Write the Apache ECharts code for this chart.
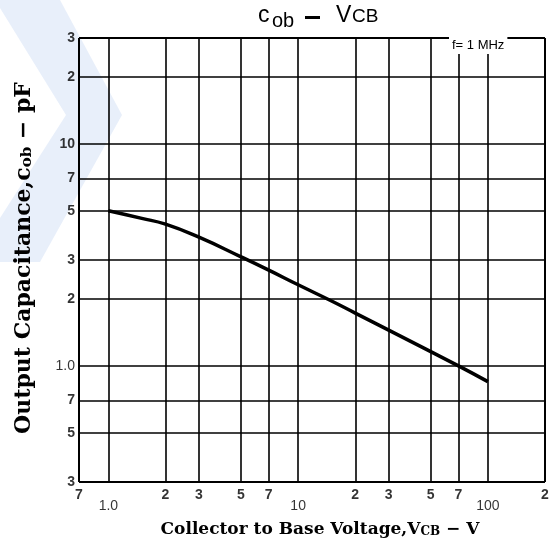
<!DOCTYPE html>
<html>
<head>
<meta charset="utf-8">
<script src="https://cdn.jsdelivr.net/npm/echarts@6/dist/echarts.min.js"></script>
<style>html,body{margin:0;padding:0;background:#fff}#c{width:552px;height:552px}</style>
</head>
<body>
<div id="c"></div>
<script>
// ---- data ----
const xGrid = [0.7, 1, 2, 3, 5, 7, 10, 20, 30, 50, 70, 100, 200];
const xTickLabels = ['7', '1.0', '2', '3', '5', '7', '10', '2', '3', '5', '7', '100', '2'];
const yGrid = [0.3, 0.5, 0.7, 1, 2, 3, 5, 7, 10, 20, 30];
const yTickLabels = ['3', '5', '7', '1.0', '2', '3', '5', '7', '10', '2', '3'];
const vcb = [1, 1.5, 2, 3, 5, 7, 10, 15, 20, 30, 50, 70, 100];
const cob = [5.0, 4.62, 4.35, 3.80, 3.1, 2.70, 2.32, 1.96, 1.73, 1.45, 1.16, 1.0, 0.85];
const noteText = 'f= 1 MHz';

const chart = echarts.init(document.getElementById('c'), null, {renderer: 'canvas'});
const isDecade = s => s.indexOf('1') === 0 && s.length > 1;
const serif = '"DejaVu Serif","Liberation Serif",serif';
const sans = '"Liberation Sans","DejaVu Sans",sans-serif';

const gridLine = (v, key, edge) => ({[key]: v, lineStyle: {width: edge ? 2 : 1.6, color: '#000', type: 'solid'}});

const option = {
  animation: false,
  backgroundColor: '#fff',
  grid: {left: 79, top: 38, right: 7, bottom: 70, containLabel: false},
  xAxis: {type: 'log', logBase: 10, min: 0.7, max: 200,
    axisLine: {show: false}, axisTick: {show: false}, axisLabel: {show: false}, splitLine: {show: false}},
  yAxis: {type: 'log', logBase: 10, min: 0.3, max: 30,
    axisLine: {show: false}, axisTick: {show: false}, axisLabel: {show: false}, splitLine: {show: false}},
  graphic: [
    {type: 'polygon', z: -10, silent: true,
      shape: {points: [[0, 0], [60, 0], [122, 115], [40, 262], [0, 262], [0, 218], [66, 115], [0, 8]]},
      style: {fill: 'rgba(214,225,245,0.55)'}},
    // title
    {type: 'text', left: 258, top: 4, style: {text: 'c', font: '23px ' + sans, fill: '#000'}},
    {type: 'text', left: 272, top: 11, style: {text: 'ob', font: '20px ' + sans, fill: '#000'}},
    {type: 'rect', shape: {x: 305, y: 16, width: 15, height: 3}, style: {fill: '#000'}},
    {type: 'text', left: 336, top: 4, style: {text: 'V', font: '23px ' + sans, fill: '#000'}},
    {type: 'text', left: 352, top: 7, style: {text: 'CB', font: '19px ' + sans, fill: '#000'}},
    // note
    {type: 'text', left: 449, top: 37, z: 50, style: {text: noteText, font: '13px ' + sans, fill: '#000',
      backgroundColor: '#fff', padding: [2, 3, 2, 3]}},
    // x axis title
    {type: 'text', x: 320, y: 527, style: {
      text: '{t|Collector to Base Voltage,V}{s|CB}{t| \u2212 V}', align: 'center', verticalAlign: 'middle',
      rich: {t: {font: 'bold 17px ' + serif, fill: '#000', verticalAlign: 'bottom', lineHeight: 22},
             s: {font: 'bold 12px ' + serif, fill: '#000', verticalAlign: 'bottom', lineHeight: 6}}}},
    // y axis title
    {type: 'text', x: 22, y: 258, rotation: Math.PI / 2, style: {
      text: '{t|Output Capacitance,c}{s|ob}{t| \u2212 pF}', align: 'center', verticalAlign: 'middle',
      rich: {t: {font: 'bold 22px ' + serif, fill: '#000', verticalAlign: 'bottom', lineHeight: 26},
             s: {font: 'bold 15px ' + serif, fill: '#000', verticalAlign: 'bottom', lineHeight: 6}}}}
  ],
  series: [
    {type: 'line', data: vcb.map((v, i) => [v, cob[i]]), smooth: true, symbol: 'none',
      lineStyle: {color: '#000', width: 3.5}, z: 5,
      markLine: {silent: true, symbol: 'none', label: {show: false}, animation: false,
        data: xGrid.map((v, i) => gridLine(v, 'xAxis', i === 0 || i === xGrid.length - 1))
          .concat(yGrid.map((v, i) => gridLine(v, 'yAxis', i === 0 || i === yGrid.length - 1)))}},
    {type: 'scatter', symbolSize: 0, clip: false, silent: true,
      data: xGrid.map((v, i) => ({value: [v, 0.3], name: xTickLabels[i],
        label: {distance: isDecade(xTickLabels[i]) ? 17 : 6,
          fontWeight: isDecade(xTickLabels[i]) ? 'normal' : 'bold'}})),
      label: {show: true, position: 'bottom', formatter: p => p.name, fontSize: 14, fontFamily: sans, color: '#000'}},
    {type: 'scatter', symbolSize: 0, clip: false, silent: true,
      data: yGrid.map((v, i) => ({value: [0.7, v], name: yTickLabels[i],
        label: {fontWeight: yTickLabels[i] === '1.0' ? 'normal' : 'bold'}})),
      label: {show: true, position: 'left', distance: 4, formatter: p => p.name, fontSize: 14, fontFamily: sans, color: '#000'}}
  ]
};
chart.setOption(option);
</script>
</body>
</html>
